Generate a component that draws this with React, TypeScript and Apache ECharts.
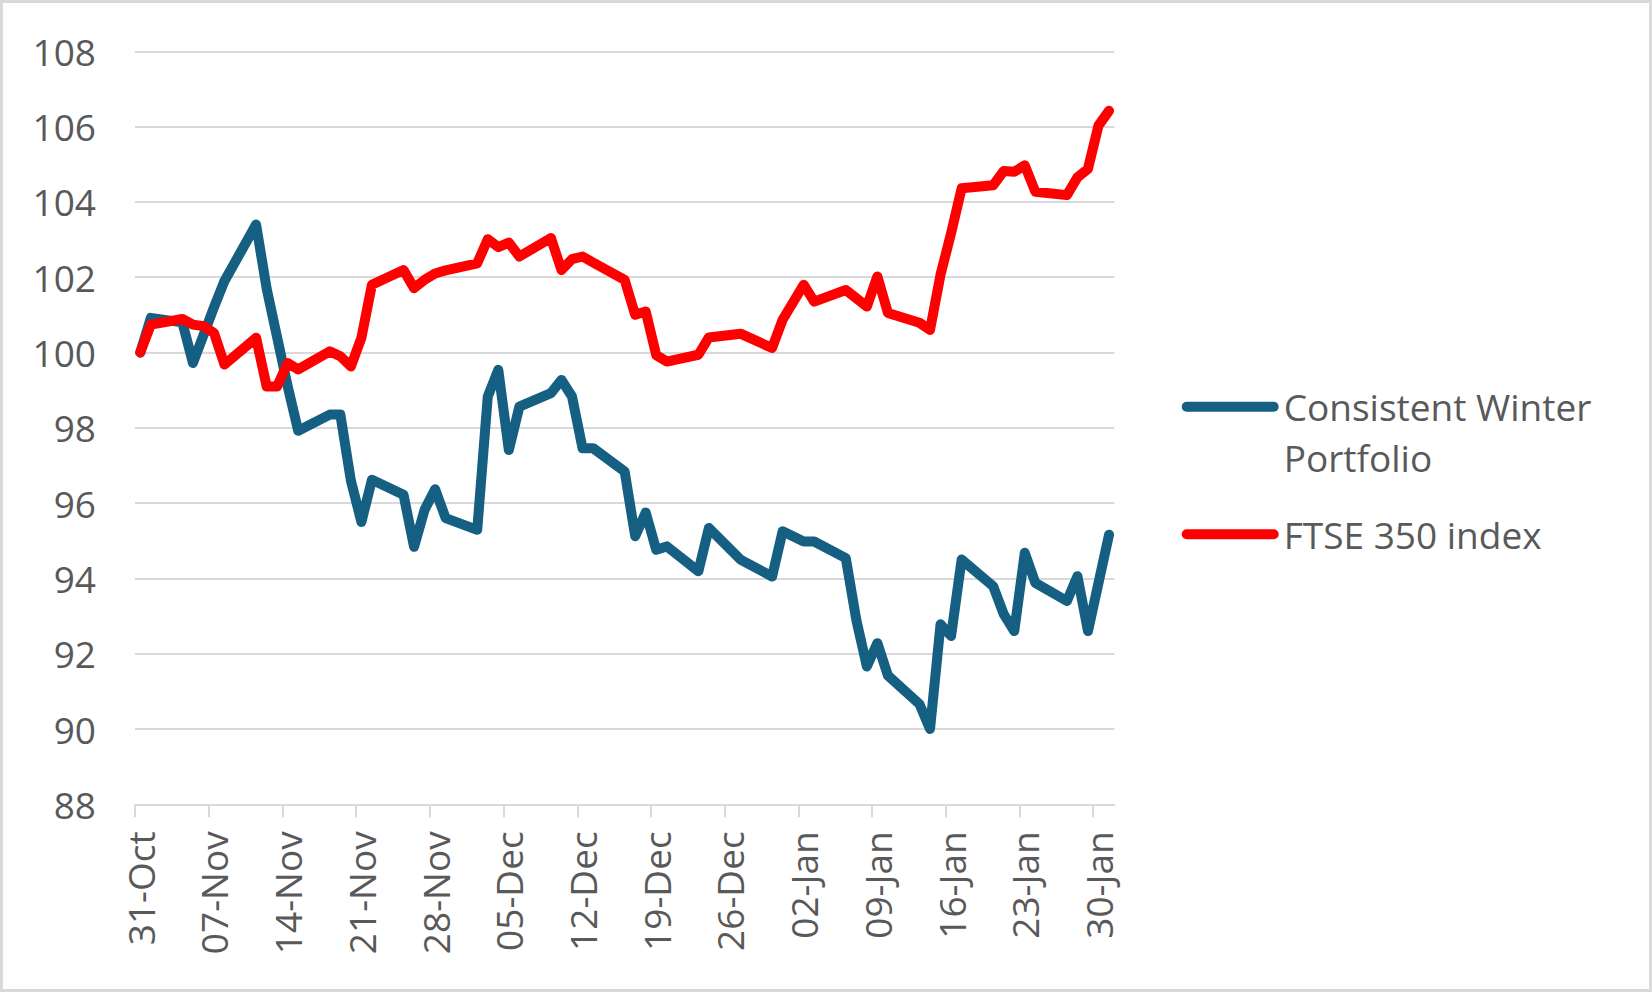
import React, { useEffect, useRef } from "react";
import * as echarts from "echarts";

const dates: string[] = [
  "2024-10-31", "2024-11-01",
  "2024-11-04", "2024-11-05", "2024-11-06", "2024-11-07", "2024-11-08",
  "2024-11-11", "2024-11-12", "2024-11-13", "2024-11-14", "2024-11-15",
  "2024-11-18", "2024-11-19", "2024-11-20", "2024-11-21", "2024-11-22",
  "2024-11-25", "2024-11-26", "2024-11-27", "2024-11-28", "2024-11-29",
  "2024-12-02", "2024-12-03", "2024-12-04", "2024-12-05", "2024-12-06",
  "2024-12-09", "2024-12-10", "2024-12-11", "2024-12-12", "2024-12-13",
  "2024-12-16", "2024-12-17", "2024-12-18", "2024-12-19", "2024-12-20",
  "2024-12-23", "2024-12-24", "2024-12-27",
  "2024-12-30", "2024-12-31", "2025-01-02", "2025-01-03",
  "2025-01-06", "2025-01-07", "2025-01-08", "2025-01-09", "2025-01-10",
  "2025-01-13", "2025-01-14", "2025-01-15", "2025-01-16", "2025-01-17",
  "2025-01-20", "2025-01-21", "2025-01-22", "2025-01-23", "2025-01-24",
  "2025-01-27", "2025-01-28", "2025-01-29", "2025-01-30", "2025-01-31",
];

const portfolio: number[] = [
  100, 100.92,
  100.8, 99.72, 100.46, 101.2, 101.9,
  103.4, 101.7, 100.4, 99.1, 97.92,
  98.35, 98.35, 96.6, 95.5, 96.62,
  96.22, 94.84, 95.82, 96.37, 95.6,
  95.29, 98.83, 99.54, 97.41, 98.56,
  98.92, 99.27, 98.83, 97.46, 97.46,
  96.84, 95.12, 95.75, 94.76, 94.85,
  94.19, 95.34, 94.5,
  94.05, 95.25, 94.98, 94.98,
  94.54, 92.9, 91.66, 92.28, 91.42,
  90.66, 90.0, 92.78, 92.47, 94.5,
  93.79, 93.05, 92.6, 94.68, 93.88,
  93.4, 94.06, 92.6, 93.88, 95.16,
];

const ftse350: number[] = [
  100, 100.74,
  100.89, 100.74, 100.7, 100.52, 99.68,
  100.39, 99.1, 99.1, 99.72, 99.55,
  100.03, 99.9, 99.63, 100.39, 101.8,
  102.19, 101.71, 101.93, 102.1, 102.18,
  102.37, 103.01, 102.8, 102.92, 102.55,
  103.04, 102.19, 102.48, 102.55, 102.39,
  101.93, 101.0, 101.09, 99.93, 99.76,
  99.94, 100.4, 100.5,
  100.12, 100.87, 101.8, 101.35,
  101.66, 101.44, 101.22, 102.02, 101.05,
  100.79, 100.6, 102.07, 103.17, 104.36,
  104.44, 104.82, 104.8, 104.97, 104.27,
  104.18, 104.65, 104.88, 106.03, 106.42,
];

const tickLabels: string[] = [
  "31-Oct", "07-Nov", "14-Nov", "21-Nov", "28-Nov", "05-Dec", "12-Dec",
  "19-Dec", "26-Dec", "02-Jan", "09-Jan", "16-Jan", "23-Jan", "30-Jan",
];

const seriesNames: string[] = ["Consistent Winter Portfolio", "FTSE 350 index"];
// leading empty line keeps the first text line level with the legend line
const legendLabels: string[] = ["\nConsistent Winter\nPortfolio", "FTSE 350 index"];

const yMin = 88;
const yMax = 108;
const yStep = 2;
const tickDays = 7;

const DAY = 86400000;
const t0 = Date.parse(dates[0]);
const dayIndex = dates.map((d) => Math.round((Date.parse(d) - t0) / DAY));
const xMax = dayIndex[dayIndex.length - 1] + 1;

const FONT = "'Open Sans', 'Noto Sans', sans-serif";
const TEXT = "#595959";
const GRID = "#d9d9d9";
const BLUE = "#156082";
const RED = "#ff0000";

export default function App() {
  const ref = useRef<HTMLDivElement | null>(null);

  useEffect(() => {
    if (!ref.current) return;
    const chart = echarts.init(ref.current, null, { renderer: "svg" });

    const toPts = (vals: number[]) => vals.map((v, i) => [dayIndex[i] + 0.5, v]);
    const tickValues = tickLabels.map((_, i) => i * tickDays);
    const labelValues = tickLabels.map((_, i) => i * tickDays + 0.5);
    const icon = "path://M5 0H92A5 5 0 0 1 92 10H5A5 5 0 0 1 5 0Z";

    const legendText = {
      fontSize: 37,
      lineHeight: 50.7,
      fontFamily: FONT,
      color: TEXT,
    };

    const legendCommon = {
      orient: "vertical",
      left: 1181.7,
      padding: 0,
      itemGap: 0,
      itemWidth: 97,
      itemHeight: 10,
      icon,
      selectedMode: false,
      itemStyle: { borderWidth: 0 },
      textStyle: legendText,
      formatter: (name: string) => legendLabels[seriesNames.indexOf(name)],
    };

    chart.setOption({
      animation: false,
      backgroundColor: "#ffffff",
      grid: { left: 135, right: 537.7, top: 51.3, bottom: 187.7, containLabel: false },
      xAxis: {
        type: "value",
        min: 0,
        max: xMax,
        interval: tickDays,
        splitLine: { show: false },
        axisLine: { show: true, lineStyle: { color: GRID, width: 2 } },
        axisTick: {
          show: true,
          customValues: tickValues,
          length: 13,
          lineStyle: { color: GRID, width: 2 },
        },
        axisLabel: {
          customValues: labelValues,
          rotate: 90,
          margin: 27,
          fontSize: 37,
          fontFamily: FONT,
          color: TEXT,
          formatter: (v: number) => tickLabels[Math.round((v - 0.5) / tickDays)] ?? "",
        },
      },
      yAxis: {
        type: "value",
        min: yMin,
        max: yMax,
        interval: yStep,
        axisLine: { show: false },
        axisTick: { show: false },
        splitLine: { show: true, lineStyle: { color: GRID, width: 2 } },
        axisLabel: { margin: 39, fontSize: 37, fontFamily: FONT, color: TEXT },
      },
      legend: [
        {
          ...legendCommon,
          data: [seriesNames[0]],
          top: 406.7 - 76,
        },
        {
          ...legendCommon,
          data: [seriesNames[1]],
          top: 534.3 - 25.35,
        },
      ],
      graphic: [
        {
          type: "rect",
          silent: true,
          shape: { x: 1.5, y: 1.5, width: 1649, height: 989 },
          style: { fill: "none", stroke: GRID, lineWidth: 3 },
          z: 100,
        },
      ],
      series: [
        {
          name: seriesNames[0],
          type: "line",
          data: toPts(portfolio),
          color: BLUE,
          showSymbol: false,
          symbol: "none",
          lineStyle: { width: 10, color: BLUE, cap: "round", join: "round" },
        },
        {
          name: seriesNames[1],
          type: "line",
          data: toPts(ftse350),
          color: RED,
          showSymbol: false,
          symbol: "none",
          lineStyle: { width: 10, color: RED, cap: "round", join: "round" },
        },
      ],
    });

    return () => chart.dispose();
  }, []);

  return (
    <div
      ref={ref}
      style={{ position: "fixed", left: 0, top: 0, width: 1652, height: 992, background: "#fff" }}
    />
  );
}
